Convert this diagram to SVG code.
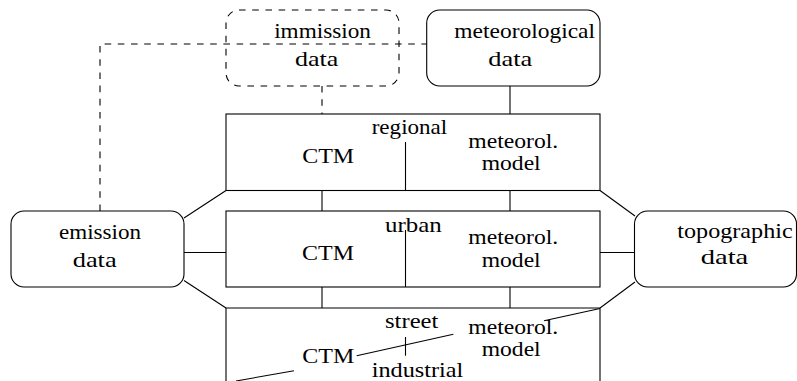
<svg xmlns="http://www.w3.org/2000/svg" width="797" height="381" viewBox="0 0 797 381">
  <style>
    .box { fill: #ffffff; stroke: #000000; stroke-width: 1.1; }
    .dash { stroke-dasharray: 6.6 6.6; }
    .ln { fill: none; stroke: #000000; stroke-width: 1.1; }
    text { font-family: "Liberation Serif", "DejaVu Serif", serif; font-size: 22px; fill: #000000; text-anchor: middle; }
    text.pair { font-size: 20px; }
  </style>

  <rect width="797" height="381" fill="#ffffff"/>

  <!-- data sources -->
  <g id="immission-data">
    <rect class="box dash" x="226" y="10" width="173" height="76" rx="13"/>
    <text x="322.5" y="37.7" textLength="96.7" lengthAdjust="spacingAndGlyphs">immission</text>
    <text x="316.7" y="65.7" textLength="43.3" lengthAdjust="spacingAndGlyphs">data</text>
  </g>

  <g id="meteorological-data">
    <rect class="box" x="426.7" y="10" width="173.3" height="76" rx="13"/>
    <text x="524.7" y="38" textLength="140.7" lengthAdjust="spacingAndGlyphs">meteorological</text>
    <text x="510.3" y="65.7" textLength="44" lengthAdjust="spacingAndGlyphs">data</text>
  </g>

  <g id="emission-data">
    <rect class="box" x="11" y="211" width="173" height="76" rx="13"/>
    <text x="100" y="239.3" textLength="82" lengthAdjust="spacingAndGlyphs">emission</text>
    <text x="94.7" y="267.3" textLength="44" lengthAdjust="spacingAndGlyphs">data</text>
  </g>

  <g id="topographic-data">
    <rect class="box" x="634.5" y="211" width="162" height="76" rx="13"/>
    <text x="735" y="238.3" textLength="115.4" lengthAdjust="spacingAndGlyphs">topographic</text>
    <text x="724.5" y="264.3" textLength="47.6" lengthAdjust="spacingAndGlyphs">data</text>
  </g>

  <!-- model layers -->
  <g id="regional">
    <rect class="box" x="226" y="114" width="374" height="76.5"/>
    <line class="ln" x1="405.5" y1="142" x2="405.5" y2="190.5"/>
    <text x="409.5" y="134" textLength="75.6" lengthAdjust="spacingAndGlyphs">regional</text>
    <text x="328.2" y="163.3" textLength="52" lengthAdjust="spacingAndGlyphs">CTM</text>
    <text class="pair" x="513.3" y="147.5" textLength="90" lengthAdjust="spacingAndGlyphs">meteorol.</text>
    <text class="pair" x="511.2" y="170" textLength="59" lengthAdjust="spacingAndGlyphs">model</text>
  </g>

  <g id="urban">
    <rect class="box" x="226" y="211" width="374" height="76"/>
    <line class="ln" x1="405.5" y1="230" x2="405.5" y2="287"/>
    <text x="413.3" y="232.3" textLength="56.7" lengthAdjust="spacingAndGlyphs">urban</text>
    <text x="328" y="260" textLength="52" lengthAdjust="spacingAndGlyphs">CTM</text>
    <text class="pair" x="513.3" y="243.8" textLength="90" lengthAdjust="spacingAndGlyphs">meteorol.</text>
    <text class="pair" x="511.2" y="267" textLength="59" lengthAdjust="spacingAndGlyphs">model</text>
  </g>

  <g id="street">
    <path class="ln" d="M226,382 V308 H600 V382"/>
    <line class="ln" x1="405.5" y1="337" x2="405.5" y2="355.7"/>
    <text x="411.7" y="328.3" textLength="53.3" lengthAdjust="spacingAndGlyphs">street</text>
    <text x="417.5" y="376.7" textLength="91.6" lengthAdjust="spacingAndGlyphs">industrial</text>
    <text x="328.3" y="363.3" textLength="52" lengthAdjust="spacingAndGlyphs">CTM</text>
    <text class="pair" x="513.3" y="334" textLength="90" lengthAdjust="spacingAndGlyphs">meteorol.</text>
    <text class="pair" x="511.2" y="356" textLength="59" lengthAdjust="spacingAndGlyphs">model</text>
  </g>

  <!-- connectors -->
  <g id="connectors">
    <!-- dashed feed from emission data to the immission / meteorological level -->
    <path class="ln dash" d="M100,211 V44 H426.7"/>
    <line class="ln dash" x1="322" y1="86" x2="322" y2="114"/>

    <!-- vertical couplings between layers -->
    <line class="ln" x1="322" y1="190.5" x2="322" y2="211"/>
    <line class="ln" x1="322" y1="287" x2="322" y2="308"/>
    <line class="ln" x1="510" y1="86" x2="510" y2="114"/>
    <line class="ln" x1="510" y1="190.5" x2="510" y2="211"/>
    <line class="ln" x1="510" y1="287" x2="510" y2="308"/>

    <!-- emission data to the layers -->
    <line class="ln" x1="184" y1="218" x2="226" y2="190.5"/>
    <line class="ln" x1="184" y1="252.5" x2="226" y2="252.5"/>
    <line class="ln" x1="184" y1="280.5" x2="226" y2="308"/>

    <!-- topographic data to the layers -->
    <line class="ln" x1="600" y1="190.5" x2="635" y2="216"/>
    <line class="ln" x1="600" y1="252.5" x2="634.5" y2="252.5"/>
    <line class="ln" x1="600" y1="308" x2="635" y2="282"/>

    <!-- slanted link through the street layer -->
    <line class="ln" x1="236" y1="381" x2="294" y2="370.7"/>
    <line class="ln" x1="356.7" y1="355.7" x2="453.3" y2="334.3"/>
    <line class="ln" x1="544" y1="320.7" x2="600" y2="308.5"/>
  </g>
</svg>
